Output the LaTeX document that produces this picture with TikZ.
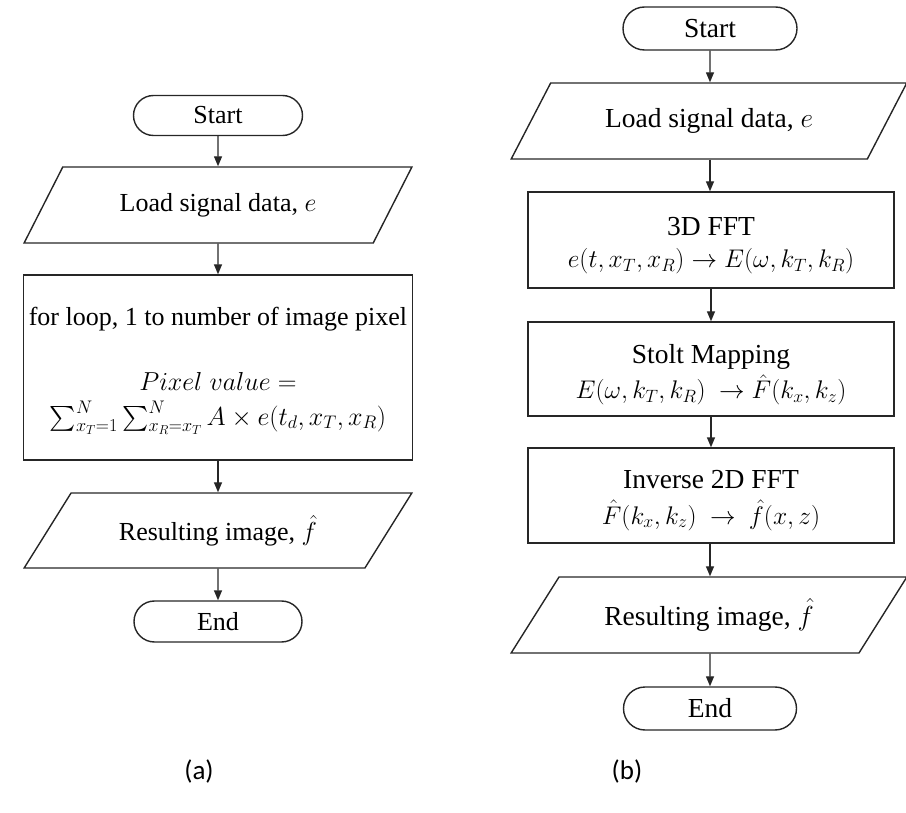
\documentclass[tikz,border=0pt]{standalone}
\usepackage{fix-cm}
\usepackage{amsmath}
\usepackage{fontspec}
\setmainfont{Liberation Serif}
\newfontfamily\capfont{Carlito}
\usetikzlibrary{shapes.geometric,shapes.misc,arrows.meta}

\tikzset{
  base/.style={draw=black!85, line width=1.4pt, align=center, inner sep=0pt},
  fa/.style={font=\fontsize{26}{31}\selectfont},
  fb/.style={font=\fontsize{27.5}{33}\selectfont},
  mfa/.style={font=\fontsize{26}{31}\selectfont},
  mfb/.style={font=\fontsize{25.5}{30}\selectfont},
  term/.style={base, rounded rectangle},
  iobox/.style={base, trapezium, trapezium left angle=44, trapezium right angle=136, trapezium stretches=true},
  procbox/.style={base, rectangle},
  txt/.style={inner sep=0pt, anchor=base},
  flow/.style={draw=black!85, line width=1.4pt, -{Triangle[length=10pt,width=8pt]}},
  sublabel/.style={font=\capfont\fontsize{27}{32}\selectfont}
}

\begin{document}
\begin{tikzpicture}[x=1pt,y=-1pt]
\useasboundingbox (0,0) rectangle (906,813);

% ---------- (a) direct summation ----------
\node[term, fa, minimum width=169pt, minimum height=40pt] (as) at (218,115.5) {Start};
\node[iobox, fa, minimum width=389pt, minimum height=76pt] (al) at (218,205) {Load signal data, $e$};
\node[procbox, minimum width=389pt, minimum height=185pt] (ap) at (218,367.5) {};
\node[txt, fa] (apt) at (218,326) {for loop, 1 to number of image pixel};
\node[txt, mfa] (apv) at (218,391) {$Pixel\;value =$};
\node[txt, mfa] (aps) at (218,425) {$\sum_{x_T=1}^{N}\sum_{x_R=x_T}^{N} A\times e(t_d,x_T,x_R)$};
\node[iobox, fa, minimum width=389pt, minimum height=75pt] (ar) at (218,530.5) {Resulting image, $\hat f$};
\node[term, fa, minimum width=168pt, minimum height=41pt] (ae) at (218,621.5) {End};

\draw[flow] (as) -- (al);
\draw[flow] (al) -- (ap);
\draw[flow] (ap) -- (ar);
\draw[flow] (ar) -- (ae);

% ---------- (b) frequency-domain migration ----------
\node[term, fb, minimum width=174pt, minimum height=43pt] (bs) at (710,28.5) {Start};
\node[iobox, fb, minimum width=396pt, minimum height=76pt] (bl) at (709,121) {Load signal data, $e$};
\node[procbox, minimum width=366pt, minimum height=96pt] (bf) at (711,240) {};
\node[procbox, minimum width=366pt, minimum height=94pt] (bm) at (711,369) {};
\node[procbox, minimum width=366pt, minimum height=95pt] (bi) at (711,495.5) {};
\node[iobox, fb, minimum width=396pt, minimum height=76pt] (br) at (709,615) {Resulting image, $\hat f$};
\node[term, fb, minimum width=173pt, minimum height=43pt] (be) at (710,708.5) {End};

\node[txt, fb]  (bft) at (711,236) {3D FFT};
\node[txt, mfb] (bff) at (711,268) {$e(t,x_T,x_R)\rightarrow E(\omega,k_T,k_R)$};
\node[txt, fb]  (bmt) at (711,363) {Stolt Mapping};
\node[txt, mfb] (bmf) at (711,399) {$E(\omega,k_T,k_R)\ \rightarrow \hat F(k_x,k_z)$};
\node[txt, fb]  (bit) at (711,488) {Inverse 2D FFT};
\node[txt, mfb] (bif) at (711,524) {$\hat F(k_x,k_z)\ \rightarrow\ \hat f(x,z)$};

\draw[flow] (bs) -- (bs |- bl.north);
\draw[flow] (bs |- bl.south) -- (bs |- bf.north);
\draw[flow] (bf) -- (bm);
\draw[flow] (bm) -- (bi);
\draw[flow] (bs |- bi.south) -- (bs |- br.north);
\draw[flow] (bs |- br.south) -- (be);

% ---------- captions ----------
\node[sublabel] (capa) at (199,771) {(a)};
\node[sublabel] (capb) at (627,771) {(b)};
\end{tikzpicture}
\end{document}
